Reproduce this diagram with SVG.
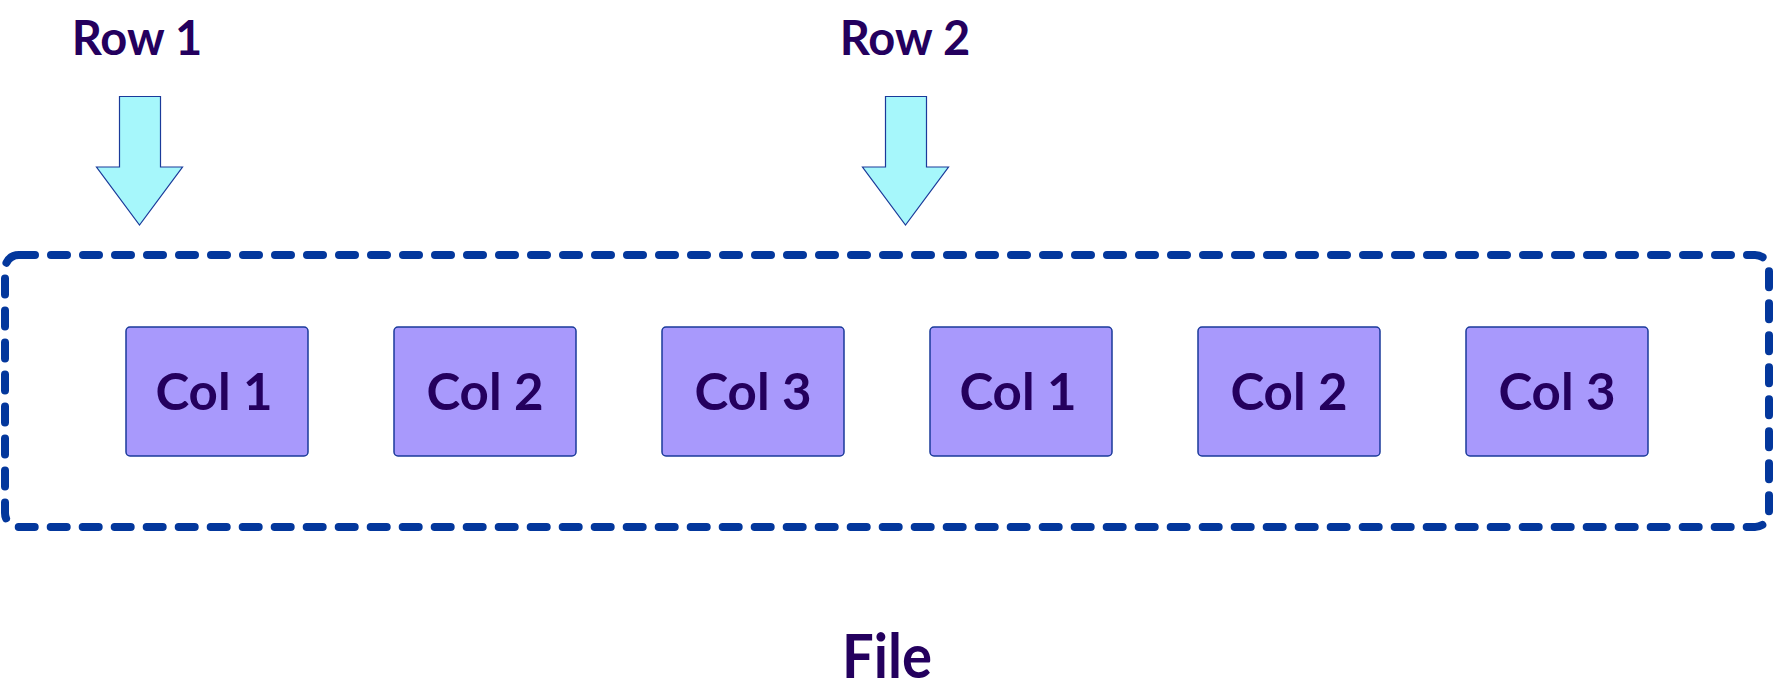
<svg xmlns="http://www.w3.org/2000/svg" width="1773" height="699" viewBox="0 0 1773 699">
<style>
.lbl{font-family:"Lato","Liberation Sans",sans-serif;font-weight:bold;fill:#24005e;text-anchor:middle}
.row{font-size:47px}
.col{font-size:51px}
.file{font-size:61px}
.box{fill:#a899fc;stroke:#1a3a9a;stroke-width:1.5}
.arrow{fill:#a6f7fb;stroke:#1a3a9a;stroke-width:1.2;stroke-linejoin:miter}
.frame{fill:none;stroke:#03379c;stroke-width:8;stroke-linecap:round;stroke-dasharray:16 16}
</style>
<rect width="1773" height="699" fill="#ffffff"/>
<g id="file">
<rect class="frame" x="5" y="255" width="1764" height="272" rx="14" ry="14"/>
<text class="lbl file" x="887" y="678" textLength="90" lengthAdjust="spacingAndGlyphs">File</text>
</g>
<g id="row1">
<text class="lbl row" x="137" y="55">Row 1</text>
</g>
<g id="row2">
<text class="lbl row" x="905" y="55">Row 2</text>
</g>
<g id="connectors">
<polygon class="arrow" points="119.5,96.5 160.5,96.5 160.5,167 182.5,167 139.5,225 96.5,167 119.5,167"/>
<polygon class="arrow" points="885.5,96.5 926.5,96.5 926.5,167 948.5,167 905.5,225 862.5,167 885.5,167"/>
</g>
<g id="col1a"><rect class="box" x="126" y="327" width="182" height="129" rx="4"/><text class="lbl col" x="214" y="410">Col 1</text></g>
<g id="col2a"><rect class="box" x="394" y="327" width="182" height="129" rx="4"/><text class="lbl col" x="485" y="410">Col 2</text></g>
<g id="col3a"><rect class="box" x="662" y="327" width="182" height="129" rx="4"/><text class="lbl col" x="753" y="410">Col 3</text></g>
<g id="col1b"><rect class="box" x="930" y="327" width="182" height="129" rx="4"/><text class="lbl col" x="1018" y="410">Col 1</text></g>
<g id="col2b"><rect class="box" x="1198" y="327" width="182" height="129" rx="4"/><text class="lbl col" x="1289" y="410">Col 2</text></g>
<g id="col3b"><rect class="box" x="1466" y="327" width="182" height="129" rx="4"/><text class="lbl col" x="1557" y="410">Col 3</text></g>
</svg>
